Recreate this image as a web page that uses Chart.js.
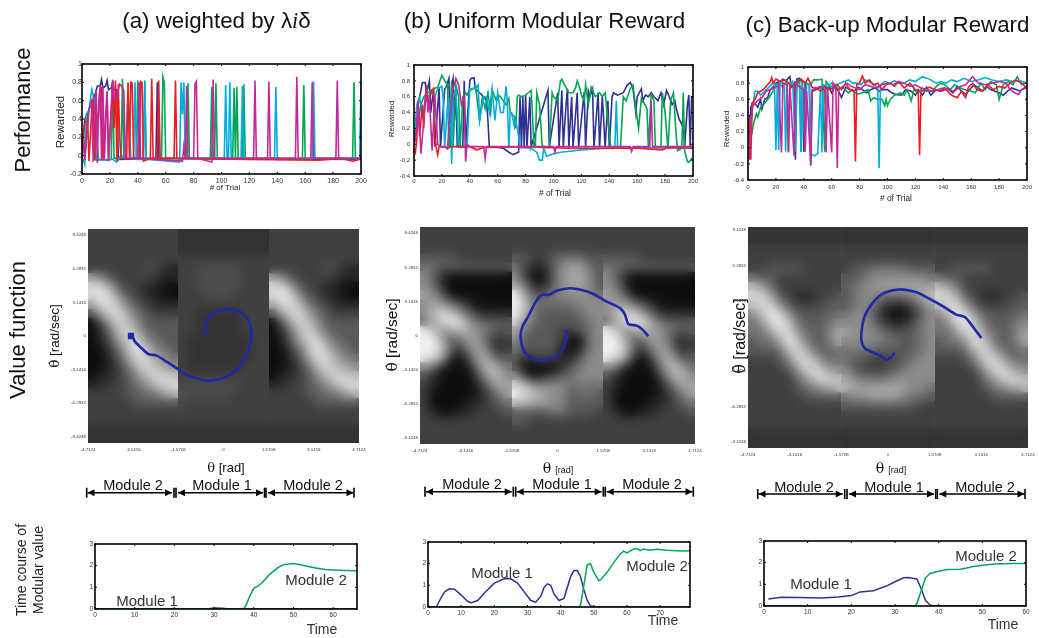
<!DOCTYPE html>
<html><head><meta charset="utf-8">
<script src="https://cdn.jsdelivr.net/npm/chart.js@4/dist/chart.umd.min.js"></script>
<style>
html,body{margin:0;padding:0;background:#fff;width:1039px;height:638px;overflow:hidden}
#stage{position:relative;width:1039px;height:638px;font-family:"Liberation Sans",Arial,sans-serif;color:#111;filter:blur(.35px)}
canvas{position:absolute}
.t{position:absolute;white-space:nowrap;line-height:1;transform-origin:center}
svg{position:absolute;left:0;top:0}
</style></head><body><div id="stage"></div>
<script>
// ---------- colours ----------
const BLUE='#2E3192', GREEN='#00A651', CYAN='#00AEDA', RED='#ED1C24', MAGENTA='#C4289A', TRAJ='#1C2AA8';

// ---------- performance, panel (a): [trial, reward] ----------
const aBlue=[[0,0],[2,.4],[4,.45],[6,.55],[8,.6],[10,.7],[11,.76],[13,.76],[14,.83],[15,.74],[17,.76],[18,.82],[19,.72],[21,.74],[22,.8],[23,.72],[25,.72],[26,-.04],[53,-.03],[54,.8],[55,-.03],[200,-.04]];
const aGreen=[[0,-.05],[1,.3],[2,-.05],[5,.5],[7,.6],[9,.6],[10,-.05],[21,-.04],[22,.8],[23,-.03],[28,-.03],[29,.84],[30,-.03],[39,-.03],[40,.82],[41,-.03],[44,-.03],[45,.82],[46,-.03],[57,-.03],[58,.86],[59,.8],[60,-.03],[75,-.03],[76,.79],[77,-.03],[92,-.03],[93,.75],[94,-.03],[95,-.03],[96,.79],[97,-.03],[108,-.03],[109,.74],[110,-.03],[111,.75],[112,-.03],[115,-.03],[116,.78],[117,-.03],[158,-.03],[159,.77],[160,-.03],[194,-.03],[195,.8],[196,-.03],[200,-.03]];
const aCyan=[[0,-.02],[1,-.05],[2,-.1],[3,.45],[5,.5],[7,.72],[9,.6],[11,.1],[12,-.04],[18,-.05],[22,-.04],[25,-.07],[28,.01],[31,-.03],[33,.7],[35,-.03],[37,-.03],[38,.8],[39,-.04],[44,-.04],[45,.8],[46,-.04],[70,-.07],[71,.8],[72,.45],[73,.8],[74,-.03],[102,-.03],[103,.77],[104,-.03],[105,-.03],[106,.8],[107,-.03],[114,-.03],[115,.76],[116,-.03],[138,-.03],[139,.75],[140,-.04],[165,-.03],[166,.81],[167,-.03],[199,-.03],[200,.8]];
const aRed=[[0,.1],[1,.25],[2,.35],[4,.4],[5,-.06],[7,.5],[8,.58],[9,-.05],[10,.7],[11,.3],[13,.6],[14,.75],[15,-.05],[18,.7],[19,-.06],[22,.82],[23,.3],[24,.82],[25,-.06],[26,.78],[27,.2],[28,-.03],[32,-.03],[33,.8],[34,-.03],[35,.8],[36,.79],[37,-.03],[41,-.03],[42,.81],[43,.8],[44,-.06],[49,-.03],[50,.84],[51,-.03],[54,-.03],[55,.82],[56,-.03],[66,-.03],[67,.82],[68,-.03],[120,-.04],[170,-.05],[186,-.03],[194,-.06],[197,-.05],[200,-.03]];
const aMagenta=[[0,0],[1,.2],[2,-.05],[4,.4],[5,.5],[7,.6],[8,-.07],[10,.72],[11,-.08],[12,.6],[13,.76],[14,-.05],[15,.76],[16,-.05],[18,.7],[19,-.05],[22,.82],[23,.62],[25,.65],[27,.78],[29,.75],[30,.7],[31,-.03],[40,-.03],[41,.8],[42,-.03],[72,-.06],[73,.1],[74,-.03],[75,.76],[76,-.03],[80,-.03],[81,.78],[82,.81],[83,-.03],[93,-.07],[94,.83],[95,-.03],[123,-.03],[124,.82],[125,-.03],[133,-.03],[134,.81],[135,-.03],[153,-.03],[154,.86],[155,-.03],[164,-.03],[165,.8],[166,-.03],[182,-.03],[183,.82],[184,-.03],[200,-.03]];

// ---------- performance, panel (b) ----------
const bBlue=[[0,-.02],[2,.3],[3,.5],[6,.78],[8,.78],[9,.65],[10,.72],[11,.8],[12,.4],[14,.7],[15,-.03],[18,.72],[19,-.03],[22,.7],[23,.72],[25,.83],[26,-.03],[27,.75],[28,.83],[29,.3],[30,.74],[31,-.03],[35,-.03],[36,.8],[37,-.03],[40,.8],[41,.83],[43,.84],[44,.7],[47,.65],[50,.6],[52,.55],[53,.3],[54,-.03],[60,-.04],[64,-.05],[68,-.1],[71,-.13],[75,-.1],[76,.6],[77,-.05],[78,.6],[79,-.04],[80,.62],[81,-.04],[83,.6],[84,-.03],[96,.68],[97,-.03],[103,.65],[104,-.03],[106,.68],[107,-.03],[109,.5],[110,.7],[111,-.04],[113,.6],[114,-.04],[117,.65],[118,-.04],[122,.66],[123,-.04],[125,.67],[126,.6],[128,.7],[129,-.04],[132,.65],[133,-.04],[135,.6],[136,.3],[137,-.04],[139,.55],[140,-.04],[142,.6],[143,.65],[146,.62],[150,.65],[153,.75],[155,.78],[157,.7],[159,.4],[160,.6],[163,.7],[164,.55],[166,.62],[168,.6],[170,.65],[172,.6],[175,.55],[177,.65],[179,.5],[181,.68],[183,.6],[185,.5],[187,.55],[188,.45],[190,.32],[192,.25],[193,.3],[194,-.04],[196,.5],[197,.62],[198,-.04],[199,.6],[200,.6]];
const bGreen=[[0,0],[3,.3],[5,.5],[7,.6],[10,.65],[14,.7],[17,.72],[20,.87],[22,.8],[24,.75],[25,-.04],[27,.8],[28,-.04],[30,.75],[32,.6],[33,-.05],[35,.6],[37,.65],[38,.62],[40,.68],[42,.7],[44,.72],[45,.6],[47,.3],[49,.6],[51,.45],[53,.65],[55,.4],[56,.68],[58,.6],[59,.55],[60,.62],[62,.6],[64,.55],[66,.5],[68,.58],[69,.4],[72,.35],[73,.2],[74,.6],[75,.62],[77,.6],[80,.62],[82,.65],[84,.68],[85,.35],[86,-.03],[87,-.03],[88,.65],[90,.5],[92,-.04],[97,-.04],[99,.65],[100,.6],[103,.55],[105,.8],[106,.82],[108,.75],[111,.65],[114,.65],[116,.72],[117,.8],[119,.7],[120,.62],[122,.55],[123,.75],[125,.5],[127,.72],[130,.6],[133,.65],[135,.6],[137,.65],[139,.3],[141,-.04],[148,-.04],[150,.6],[152,.55],[155,.7],[157,.75],[159,.45],[161,.2],[163,.58],[165,.52],[167,.45],[168,-.04],[170,.63],[172,.55],[173,-.04],[177,-.04],[178,.65],[180,.4],[182,-.06],[184,.55],[186,.65],[188,.1],[189,-.08],[192,-.05],[193,.65],[194,-.08],[196,-.22],[197,-.23],[199,-.18],[200,-.19]];
const bCyan=[[0,-.02],[2,.5],[4,.6],[6,.35],[8,.55],[10,.6],[12,.65],[15,.6],[17,.7],[20,.73],[21,.55],[22,-.04],[24,.5],[25,.3],[26,.6],[27,-.25],[28,.6],[30,.7],[32,-.04],[38,-.04],[40,.7],[44,.7],[46,.75],[47,.3],[50,.6],[52,.6],[54,.4],[56,.7],[58,.3],[60,.65],[62,.4],[64,.4],[66,.73],[67,.5],[68,-.05],[69,.4],[70,.4],[72,.22],[73,.3],[75,.1],[76,-.04],[84,-.05],[88,-.1],[90,-.2],[92,-.2],[93,-.05],[95,-.15],[100,-.12],[105,-.1],[110,-.09],[120,-.07],[130,-.06],[140,-.05],[144,-.05],[145,.55],[146,-.04],[200,-.05]];
const bRed=[[0,-.05],[1,-.1],[2,.05],[3,.5],[4,.1],[5,.3],[6,.5],[7,.2],[8,.6],[9,.7],[10,.5],[12,.65],[14,.7],[15,.1],[16,-.05],[17,-.13],[18,-.03],[22,-.03],[24,-.06],[26,-.03],[40,-.03],[45,-.07],[50,-.04],[80,-.03],[110,-.05],[160,-.05],[178,-.07],[182,-.04],[200,-.05]];
const bMagenta=[[0,-.02],[2,.2],[3,.55],[5,-.12],[7,.3],[9,.7],[10,.4],[11,.6],[13,-.08],[15,.6],[17,0],[19,-.03],[24,-.04],[26,.4],[28,.7],[30,.83],[32,.75],[34,.5],[36,.6],[37,-.22],[38,0],[40,-.03],[50,-.03],[51,-.18],[52,-.03],[100,-.03],[101,-.1],[102,-.03],[155,-.03],[156,-.09],[157,-.03],[169,-.03],[170,.55],[171,-.03],[200,-.03]];

// ---------- performance, panel (c) ----------
const cBlue=[[0,-.05],[1,.1],[2,.5],[3,.55],[5,.55],[7,.5],[9,.6],[10,.48],[12,.6],[14,.62],[16,.72],[18,.75],[20,.8],[23,.82],[25,.85],[27,.83],[30,.88],[31,.75],[33,.8],[34,-.15],[35,.85],[37,.86],[39,.8],[40,-.05],[41,.8],[44,.78],[45,-.22],[46,.7],[49,.72],[52,.75],[55,.72],[58,.75],[60,.68],[62,.75],[65,.7],[67,.62],[70,.75],[73,.72],[76,.7],[79,.75],[82,.72],[85,.68],[88,.72],[91,.74],[94,.7],[97,.72],[100,.72],[103,.68],[106,.66],[110,.65],[113,.72],[117,.7],[120,.65],[122,.72],[125,.65],[128,.75],[131,.65],[135,.72],[138,.7],[141,.74],[144,.72],[147,.68],[150,.76],[153,.7],[156,.66],[159,.72],[162,.78],[165,.74],[168,.7],[171,.76],[174,.72],[177,.7],[180,.68],[183,.65],[186,.7],[189,.74],[192,.72],[195,.7],[198,.74],[200,.76]];
const cGreen=[[0,-.05],[2,.1],[4,.3],[6,.42],[7,.38],[9,.5],[12,.55],[15,.62],[18,.7],[20,.78],[22,.8],[25,.75],[28,.82],[29,-.05],[30,.8],[33,.8],[36,.84],[37,.78],[38,-.05],[39,.82],[42,.8],[45,.78],[47,.84],[50,.84],[53,.85],[55,-.05],[56,.82],[59,.75],[62,.78],[65,.72],[68,.75],[72,.68],[75,.72],[78,.66],[82,.68],[86,.72],[88,.58],[90,.62],[93,.6],[96,.6],[98,.52],[99,.6],[100,.52],[102,.6],[105,.65],[109,.68],[112,.65],[114,.72],[117,.58],[119,.72],[122,.68],[125,.74],[128,.7],[132,.7],[135,.76],[138,.8],[141,.78],[145,.72],[148,.78],[151,.75],[155,.72],[160,.7],[163,.68],[167,.8],[170,.72],[174,.82],[178,.78],[180,.6],[183,.78],[187,.82],[190,.78],[193,.88],[196,.78],[198,.8],[200,.8]];
const cCyan=[[0,-.02],[1,.2],[3,.45],[5,.7],[7,.7],[9,.65],[12,.7],[15,.75],[18,.8],[19,.8],[20,-.03],[21,.8],[22,-.03],[23,.8],[26,.8],[27,-.05],[28,.82],[30,.78],[32,.82],[34,-.05],[35,.8],[37,.8],[38,-.05],[39,.78],[41,-.05],[42,.8],[44,.78],[45,-.08],[48,-.1],[50,-.07],[52,.75],[53,-.06],[54,.78],[57,.75],[60,.8],[63,.78],[66,.8],[69,.82],[72,.84],[75,.8],[78,.8],[81,.78],[84,.84],[87,.82],[90,.78],[93,.75],[94,-.25],[95,.78],[98,.82],[102,.8],[105,.83],[108,.8],[112,.8],[116,.84],[120,.82],[125,.88],[130,.85],[135,.8],[138,.82],[142,.8],[146,.84],[150,.82],[155,.86],[160,.82],[165,.84],[170,.87],[175,.84],[180,.82],[185,.84],[190,.82],[195,.83],[200,.8]];
const cRed=[[0,.1],[1,.4],[2,-.15],[3,.55],[5,.6],[7,.68],[9,.7],[11,.72],[14,.78],[16,.82],[17,.87],[18,.8],[20,.85],[23,.82],[26,.84],[29,.8],[32,.76],[35,.8],[38,.85],[41,.8],[43,.86],[46,.75],[49,.74],[52,.7],[55,.76],[58,.72],[61,.74],[64,.78],[67,.72],[70,.8],[73,.72],[76,.7],[77,-.17],[78,.78],[80,.8],[82,.89],[84,.8],[87,.84],[90,.78],[93,.8],[96,.72],[99,.78],[102,.8],[105,.76],[108,.82],[112,.74],[116,.8],[120,.72],[122,.7],[123,-.09],[124,.7],[127,.72],[130,.75],[134,.72],[138,.7],[142,.72],[146,.65],[150,.62],[153,.7],[156,.62],[158,.75],[161,.8],[164,.72],[168,.7],[172,.78],[176,.72],[180,.76],[184,.74],[188,.8],[192,.84],[196,.8],[200,.74]];
const cMagenta=[[0,0],[1,-.15],[2,.2],[3,.5],[5,.55],[8,.6],[10,.62],[13,.7],[16,.72],[19,.74],[22,.78],[24,-.06],[25,.8],[28,.78],[29,-.06],[30,.78],[33,-.1],[34,.8],[37,.75],[40,.72],[41,-.05],[42,.7],[45,-.2],[46,.72],[49,.74],[52,.76],[55,.72],[56,-.06],[57,.74],[60,-.06],[61,.8],[63,.72],[64,-.25],[65,.72],[68,.76],[71,.8],[74,.76],[77,.74],[80,.72],[84,.78],[88,.76],[92,.74],[96,.78],[100,.8],[104,.78],[108,.82],[112,.8],[116,.76],[120,.78],[124,.74],[128,.72],[132,.7],[136,.72],[140,.74],[144,.72],[148,.7],[152,.76],[156,.78],[161,.88],[165,.8],[170,.78],[175,.8],[180,.82],[185,.8],[188,.72],[191,.68],[194,.66],[196,.72],[200,.74]];

// ---------- value function grids: one symbol per cell, 0 = dark ... 9 = bright, a = 1.5, b = 2.5 ----------
const aModule2=["2222222222","2222222222","2222222222","2222222222","222222bb11","6532222a11","8863221100","8985321100","6887432111","3688643222","0368753333","0147864333","0136885433","0024797543","0013688654","0012478765","0112357887","1122345788","2222334467","2222233333","2222222222","2222222222","aaaaaaaaaa","aaaaaaaaaa"];
const aModule1=["aaaaaaaaaa","aaaaaaaaaa","aaaaaaaaaa","2222222222","22bbbbb222","22bbbbb222","22bbbbb222","222bbb2222","2222222222","22aaaaa222","22aaaaa222","22aaaaa222","2aaaaaaa22","2aaaaaaa22","2aaaaaaa22","2aaaaaa222","2222222222","bbbbbbb222","bbbbbb2222","b222222222","2222222222","2222222222","aaaaaaaaaa","aaaaaaaaaa"];
const bModule2=["2222222222","2222222222","2222222222","3333222222","4433333333","5310000000","5410000000","6530000000","5654210000","5787531111","4689854333","9756765433","9963465312","9973256412","9861036633","5410015764","3100003675","2100001466","2000001246","2000011234","2100112223","2222222222","2222222222","2222222222"];
const bModule1=["2222222222","2222222222","2222222222","3322344433","4211356643","5200356653","6411356653","9633455554","9744444555","9743333455","8543333345","6433322345","5333320045","4333310145","3122211355","3000013455","5201234555","8755554444","9876553443","7766553333","3333443332","3322222222","2222222222","2222222222"];
const cModule2=["aaaaaaaaaa","aaaaaaaaaa","2222222222","2222222222","2233332222","4332222222","7642222222","8863211223","7885322233","5798533334","4589743345","4468854346","3446974346","3334786434","2223588644","2222368865","2222246887","2222234567","2222223333","2222222222","2222222222","2222222222","aaaaaaaaaa","aaaaaaaaaa"];
const cModule1=["aaaaaaaaaa","aaaaaaaaaa","2222222222","2222222222","2334444333","3345555554","3455666666","3455444567","3454211246","4553100135","5554211245","6555433345","5555443345","4443333345","4332223455","5322234555","6544455555","7666666554","4556665443","3333333322","2222222222","2222222222","aaaaaaaaaa","aaaaaaaaaa"];

// ---------- trajectories: [theta, thetaDot] ----------
const aTrajectory=[[-.648,0],[-.613,.87],[-.532,1.65],[-.359,2.17],[-.069,2.42],[.278,2.48],[.567,2.27],[.822,1.65],[.938,.87],[.972,-.06],[.891,-1.15],[.741,-2.08],[.451,-3.17],[.104,-3.79],[-.243,-4.1],[-.59,-4.19],[-.938,-3.94],[-1.285,-3.63],[-1.632,-3.01],[-1.979,-2.39],[-2.326,-1.83],[-2.616,-1.68],[-2.847,-1.15],[-3.079,-.53],[-3.137,-.22],[-3.218,0]];
const bTrajectory=[[.291,.55],[.314,-.06],[.257,-.82],[.086,-1.58],[-.2,-2.13],[-.543,-2.34],[-.829,-2.13],[-1.114,-1.58],[-1.229,-.82],[-1.263,.09],[-1.194,.85],[-1,1.76],[-.771,2.98],[-.543,3.74],[-.314,3.74],[-.029,4.13],[.429,4.35],[.829,4.19],[1.229,3.83],[1.686,3.13],[2.143,2.52],[2.314,1.91],[2.429,1.06],[2.714,.91],[2.886,.61],[3.114,-.06]];
const cTrajectory=[[.224,-1.47],[.112,-1.89],[-.034,-2.13],[-.224,-1.83],[-.505,-1.47],[-.786,-1.09],[-.898,-.34],[-.875,.7],[-.786,1.74],[-.561,2.78],[-.224,3.68],[.168,4.06],[.505,4.12],[.954,3.88],[1.403,3.29],[1.852,2.63],[2.301,1.89],[2.581,1.68],[2.806,1],[2.974,.4],[3.143,-.19]];
const thetaTicks=[-4.7124,-3.1416,-1.5708,0,1.5708,3.1416,4.7124];
const thetaDotTicks=[-9.4248,-6.2832,-3.1416,0,3.1416,6.2832,9.4248];

// ---------- modular value time courses: [time, value] ----------
const aModule1Value=[[0,0],[28,0],[30,.05],[32,.03],[34,0],[66,0]];
const aModule2Value=[[0,0],[37,0],[37.5,.03],[38,.15],[39,.6],[40,.95],[41,1.05],[42,1.2],[43,1.4],[44,1.6],[45,1.75],[46,1.9],[47,2],[48,2.07],[49,2.08],[50,2.1],[52,2.03],[54,1.95],[56,1.88],[58,1.82],[60,1.8],[63,1.78],[66,1.77]];
const bModule1Value=[[0,0],[2.5,0],[3.5,.3],[5,.7],[6.5,.84],[8,.82],[10,.55],[12,.25],[13,.2],[15,.3],[17,.65],[20,1.1],[23,1.3],[25,1.3],[27,1.1],[29,.7],[31,.3],[32.5,.22],[34,.5],[35,.9],[36,1.07],[37,1],[38,.6],[39.5,.3],[41,.4],[43,1.4],[44,1.68],[45,1.68],[46,1.4],[47,.8],[48,.3],[49,.05],[50,0],[79,0]];
const bModule2Value=[[0,0],[45.5,0],[46,.1],[47,1],[48,1.95],[49,2],[50,1.6],[51.5,1.22],[52,1.25],[54,1.6],[56,2.05],[58,2.45],[59,2.58],[60,2.5],[62,2.68],[63,2.7],[64,2.6],[65,2.68],[67,2.62],[69,2.66],[72,2.62],[75,2.6],[77,2.58],[79,2.6]];
const cModule1Value=[[1,.32],[4,.4],[8,.39],[13,.37],[17,.42],[20,.48],[22,.65],[25,.7],[28,.92],[30,1.12],[32,1.3],[33,1.32],[35,1.25],[36,.8],[37,.25],[38,.05],[39,0],[60,0]];
const cModule2Value=[[0,0],[34.5,0],[35,.1],[36,.7],[37,1.3],[38,1.5],[40,1.6],[42,1.68],[45,1.7],[48,1.82],[50,1.88],[53,1.94],[57,1.96],[60,1.96]];

// ---------- helpers ----------
const stage=document.getElementById('stage');
const pts=a=>a.map(p=>({x:p[0],y:p[1]}));
const innerTicks={id:'innerTicks',afterDatasetsDraw(c,_,o){
  if(!o.show)return;const {left:l,right:r,top:t,bottom:b}=c.chartArea,g=c.ctx;g.save();g.strokeStyle='#000';
  g.lineWidth=1;g.beginPath();
  c.scales.x.ticks.forEach(k=>{const p=c.scales.x.getPixelForValue(k.value);g.moveTo(p,b);g.lineTo(p,b-2);g.moveTo(p,t);g.lineTo(p,t+2)});
  c.scales.y.ticks.forEach(k=>{const p=c.scales.y.getPixelForValue(k.value);g.moveTo(l,p);g.lineTo(l+2,p);g.moveTo(r,p);g.lineTo(r-2,p)});
  g.stroke();g.lineWidth=o.width;g.strokeRect(l,t,r-l,b-t);g.restore();
}};
// the cells of a strip are drawn by the library on a side layer, then laid smoothed inside the strip
const stripBlur={id:'stripBlur',
  beforeDatasetDraw(c,a){const d=a.meta.controller.getDataset();if(!d.strip)return;
    const off=document.createElement('canvas');off.width=c.width;off.height=c.height;
    a.meta.controller._ctx=off.getContext('2d');a.meta._off=off;},
  afterDatasetDraw(c,a){const d=a.meta.controller.getDataset();if(!d.strip)return;
    const g=c.ctx,x=c.scales.x,off=a.meta._off,L=Math.round(x.getPixelForValue(d.strip[0])),R=Math.round(x.getPixelForValue(d.strip[1]));
    g.save();g.beginPath();g.rect(L,c.chartArea.top,R-L,c.chartArea.bottom-c.chartArea.top);g.clip();
    g.drawImage(off,0,0);g.filter='blur(5.5px)';g.drawImage(off,0,0);g.restore();
    a.meta.controller._ctx=c.ctx;}
};
function makeChart(box,datasets,scales,plugOpts,extraPlugins){
  const [x,y,w,h]=box,L=34,R=20,T=8,B=22;
  const cv=document.createElement('canvas');cv.width=w+L+R;cv.height=h+T+B;
  cv.style.left=(x-L)+'px';cv.style.top=(y-T)+'px';stage.appendChild(cv);
  scales.x.afterFit=s=>{s.height=B};scales.y.afterFit=s=>{s.width=L};
  return new Chart(cv,{type:'scatter',data:{datasets},plugins:[innerTicks].concat(extraPlugins||[]),
    options:{responsive:false,animation:false,events:[],layout:{padding:{top:T,right:R}},
      plugins:{legend:{display:false},tooltip:{enabled:false},innerTicks:plugOpts},scales}});
}
const line=(d,color,w)=>({data:pts(d),showLine:true,borderColor:color,borderWidth:w,pointRadius:0,tension:0,fill:false});
const tidy=v=>{const r=Math.round(v*10)/10;return r===0?'0':String(r)};
const axis=(min,max,step,size,pad)=>({type:'linear',min,max,border:{display:false},grid:{display:false,drawTicks:false},
  ticks:{stepSize:step,font:{size,family:'"Liberation Sans"'},color:'#333',padding:pad,maxRotation:0,autoSkip:false,callback:tidy}});

// performance charts
function perf(box,series,ymin,size,yPad,xPad){
  makeChart(box,[line(series[4],MAGENTA,1.6),line(series[3],RED,1.6),line(series[2],CYAN,1.6),line(series[1],GREEN,1.6),line(series[0],BLUE,1.6)],
    {x:axis(0,200,20,size,xPad),y:axis(ymin,1,.2,size,yPad)},{show:true,width:1.6});
}
perf([82,64,279,110],[aBlue,aGreen,aCyan,aRed,aMagenta],-.2,7,0,3);
perf([414,65,279,111],[bBlue,bGreen,bCyan,bRed,bMagenta],-.4,6,4,2);
perf([748,67,279,113],[cBlue,cGreen,cCyan,cRed,cMagenta],-.4,6,4,4);

// value-function charts
const greyLevels={'0':14,'1':39,'a':51,'2':64,'b':76,'3':89,'4':114,'5':139,'6':164,'7':189,'8':214,'9':239};
const gray=v=>{const g=greyLevels[v];return `rgb(${g},${g},${g})`};
function strip(grid,x0,x1,ymin,ymax){
  const rows=grid.length,cols=grid[0].length,data=[];
  grid.forEach((row,r)=>[...row].forEach((ch,c)=>data.push({x:x0+(c+.5)*(x1-x0)/cols,y:ymax-(r+.5)*(ymax-ymin)/rows,v:ch})));
  return {data,strip:[x0,x1],pointStyle:'rect',borderWidth:0,pointBorderWidth:0,clip:false,
    pointBackgroundColor:c=>c.raw?gray(c.raw.v):'#000',pointRadius:7};
}
function valueChart(box,m2,m1,traj,ymin,ymax){
  const tr=line(traj,TRAJ,2.6);tr.tension=.3;
  tr.pointRadius=c=>c.dataIndex===(box[0]<100?traj.length-1:-1)?2.6:0;tr.pointBackgroundColor=TRAJ;tr.pointStyle='rect';
  const xa=axis(-4.7124,4.7124,1,4.4,4),ya=axis(ymin,ymax,1,4.4,2);
  xa.afterBuildTicks=s=>{s.ticks=thetaTicks.map(value=>({value}))};
  ya.afterBuildTicks=s=>{s.ticks=thetaDotTicks.map(value=>({value}))};
  xa.ticks.callback=ya.ticks.callback=v=>v===0?'0':v.toFixed(4);
  makeChart(box,[tr,strip(m2,1.5708,4.7124,ymin,ymax),strip(m1,-1.5708,1.5708,ymin,ymax),strip(m2,-4.7124,-1.5708,ymin,ymax)],
    {x:xa,y:ya},{show:false},[stripBlur]);
}
valueChart([88,229,271,214],aModule2,aModule1,aTrajectory,-10,10);
valueChart([420,227,275,217],bModule2,bModule1,bTrajectory,-10,10);
valueChart([748,227,280,221],cModule2,cModule1,cTrajectory,-10,9.7);

// time-course charts
function timeChart(box,m1,m2,xmax){
  const xa=axis(0,xmax,10,6.5,2);xa.afterBuildTicks=s=>{s.ticks=s.ticks.filter(t=>t.value%10===0)};
  makeChart(box,[line(m2,GREEN,1.5),line(m1,BLUE,1.5)],{x:xa,y:axis(0,3,1,6.5,2)},{show:true,width:1.6});
}
timeChart([95,544,262,65],aModule1Value,aModule2Value,66);
timeChart([428,542,262,65],bModule1Value,bModule2Value,79);
timeChart([764,541,262,65],cModule1Value,cModule2Value,60);

// ---------- text ----------
function label(html,cx,cy,size,rot,color){
  const d=document.createElement('div');d.className='t';d.innerHTML=html;d.style.fontSize=size+'px';
  d.style.left=cx+'px';d.style.top=cy+'px';d.style.color=color||'#111';
  d.style.transform=`translate(-50%,-50%) rotate(${rot||0}deg)`;stage.appendChild(d);
}
const TH='<span style="font-family:\'DejaVu Serif\'">θ</span>';
const THD='<span style="font-family:\'DejaVu Serif\'">θ̇</span>';
label('(a) weighted by λ<i style="font-family:\'Liberation Serif\'">i</i>δ',216.5,21,22.3);
label('(b) Uniform Modular Reward',544.5,21,22.3);
label('(c) Back-up Modular Reward',887.5,25,22.3);
label('Performance',23,110,21.8,-90);
label('Value function',17.5,330,22,-90);
label('Rewarded',61,122,11.5,-90,'#222');
label('# of Trial',225,188,8,0,'#222');
label('Rewarded',392,119,8,-90,'#222');
label('# of Trial',555,193,8.3,0,'#222');
label('Rewarded',727,129,8,-90,'#222');
label('# of Trial',896,198,8.3,0,'#222');
label(THD+' [rad/sec]',55,336,13.5,-90);
label(THD+'  [rad/sec]',392,335,15.5,-90);
label(THD+' [rad/sec]',740,336,16,-90);
label(TH+' [rad]',226,467,13);
label(TH+' <span style="font-size:9px">[rad]</span>',558,468,14);
label(TH+' <span style="font-size:9px">[rad]</span>',891,468,14);
label('Time course of',21,570,14,-90,'#222');
label('Modular value',38,570,14,-90,'#222');
label('Time',322,629,14,0,'#333');
label('Time',663,620,14,0,'#333');
label('Time',1003,624,14,0,'#333');
[[147,600,316,579],[502,572,657,565],[821,583,986,555]].forEach(p=>{
  label('Module 1',p[0],p[1],15,0,'#333');label('Module 2',p[2],p[3],15,0,'#333');
});
[[133,485,'Module 2'],[222,485,'Module 1'],[313,485,'Module 2'],[472,484,'Module 2'],[562,484,'Module 1'],[652,484,'Module 2'],[804,486.7,'Module 2'],[894,486.7,'Module 1'],[985,486.7,'Module 2']]
 .forEach(p=>label(p[2],p[0],p[1],14.5));

// ---------- module brackets ----------
const svgNS='http://www.w3.org/2000/svg';
const svg=document.createElementNS(svgNS,'svg');svg.setAttribute('width',1039);svg.setAttribute('height',638);
function seg(x1,y1,x2,y2){const l=document.createElementNS(svgNS,'line');
  [['x1',x1],['y1',y1],['x2',x2],['y2',y2],['stroke','#000'],['stroke-width',1.6]].forEach(a=>l.setAttribute(a[0],a[1]));svg.appendChild(l)}
function head(x,y,dir){const p=document.createElementNS(svgNS,'polygon');
  p.setAttribute('points',`${x},${y} ${x-dir*7},${y-3.5} ${x-dir*7},${y+3.5}`);svg.appendChild(p)}
function bracket(y,spans,bars){
  spans.forEach(s=>{seg(s[0],y,s[1],y);head(s[0],y,-1);head(s[1],y,1)});
  bars.forEach(x=>seg(x,y-5,x,y+5));
}
bracket(492.7,[[87.5,172],[178,263],[268,353.5]],[86.7,174,176,264.5,266,354]);
bracket(491.7,[[426,511.7],[516.7,601.7],[606.7,692.5]],[425,513.3,515.7,603.3,605.3,693.3]);
bracket(494,[[758.5,842.7],[849,934],[939.3,1024.5]],[757.7,844.7,847,935.7,937.3,1025]);
stage.appendChild(svg);
</script></body></html>
